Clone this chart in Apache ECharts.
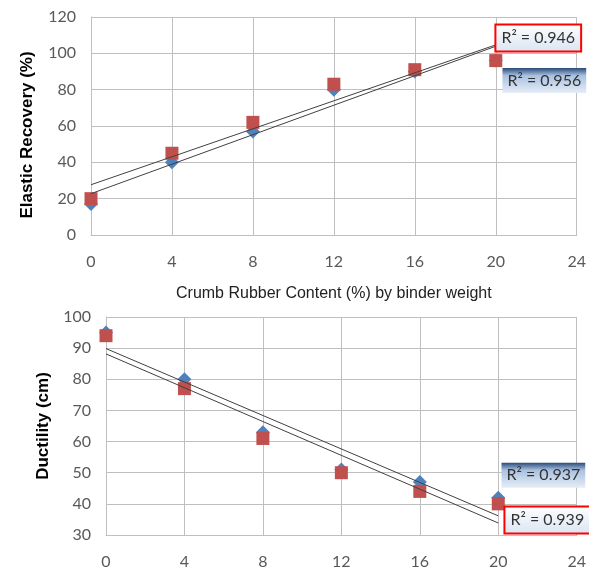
<!DOCTYPE html>
<html>
<head>
<meta charset="utf-8">
<script src="https://cdn.jsdelivr.net/npm/echarts@6/dist/echarts.min.js"></script>
<style>
  html, body { margin: 0; padding: 0; background: #fff; }
  #main { width: 589px; height: 570px; }
</style>
</head>
<body>
<div id="main"></div>
<script>
// values
const rubberContent = [0, 4, 8, 12, 16, 20]
const recoveryBlue = [17, 40, 57, 80, 90, 96]
const recoveryRed = [20, 45, 62, 83, 91, 96]
const ductilityBlue = [95, 80, 63, 51, 47, 42]
const ductilityRed = [94, 77, 61, 50, 44, 40]
const r2Text = ['R² = 0.946', 'R² = 0.956', 'R² = 0.937', 'R² = 0.939']

const BLUE = '#4F81BD'
const RED = '#C0504D'
const GRID = '#bfbfbf'
const TICK = '#595959'

const pairs = ys => rubberContent.map((x, i) => [x, ys[i]])

// least squares trend line, drawn from first to last x
function trend(ys) {
  const n = ys.length
  const mx = rubberContent.reduce((a, b) => a + b, 0) / n
  const my = ys.reduce((a, b) => a + b, 0) / n
  let sxy = 0
  let sxx = 0
  rubberContent.forEach((x, i) => {
    sxy += (x - mx) * (ys[i] - my)
    sxx += (x - mx) * (x - mx)
  })
  const m = sxy / sxx
  const b = my - m * mx
  const x0 = rubberContent[0]
  const x1 = rubberContent[n - 1]
  return [[x0, b + m * x0], [x1, b + m * x1]]
}

const redBox = {
  backgroundColor: {
    type: 'linear', x: 0, y: 0, x2: 0, y2: 1,
    colorStops: [{ offset: 0, color: '#ffffff' }, { offset: 1, color: '#d9e4f2' }]
  },
  borderColor: '#ff0000',
  borderWidth: 2
}
const blueBox = {
  backgroundColor: {
    type: 'linear', x: 0, y: 0, x2: 0, y2: 1,
    colorStops: [
      { offset: 0, color: '#2a4a78' },
      { offset: 0.3, color: '#a9c1e0' },
      { offset: 1, color: '#e6edf7' }
    ]
  }
}

function r2Mark(coord, text, box) {
  return {
    symbol: 'rect',
    symbolSize: 1,
    itemStyle: { color: 'rgba(0,0,0,0)' },
    animation: false,
    label: Object.assign({
      show: true,
      position: 'inside',
      formatter: () => text,
      color: '#333',
      fontSize: 16,
      fontFamily: 'Lato',
      padding: [5, 5, 4, 5]
    }, box),
    data: [{ coord: coord }]
  }
}

function xAxis(gridIndex, name) {
  return {
    type: 'value',
    gridIndex: gridIndex,
    min: 0,
    max: 24,
    interval: 4,
    name: name,
    nameLocation: 'middle',
    nameGap: 51,
    nameTextStyle: { color: '#222', fontSize: 16, fontFamily: 'Liberation Sans' },
    axisLine: { lineStyle: { color: GRID } },
    axisTick: { show: false },
    axisLabel: { color: TICK, fontSize: 16, fontFamily: 'Lato', margin: 19 },
    splitLine: { lineStyle: { color: GRID } }
  }
}

function yAxis(gridIndex, min, max, interval, name, gap, pad) {
  return {
    type: 'value',
    gridIndex: gridIndex,
    min: min,
    max: max,
    interval: interval,
    name: name,
    nameLocation: 'middle',
    nameGap: gap,
    nameTextStyle: {
      color: '#000', fontSize: 17, fontWeight: 'bold', fontFamily: 'Liberation Sans',
      padding: pad
    },
    axisLine: { show: true, lineStyle: { color: GRID } },
    axisTick: { show: false },
    axisLabel: { color: TICK, fontSize: 16, fontFamily: 'Lato', margin: 15 },
    splitLine: { lineStyle: { color: GRID } }
  }
}

function scatter(idx, ys, symbol, size, color) {
  return {
    type: 'scatter',
    xAxisIndex: idx,
    yAxisIndex: idx,
    symbol: symbol,
    symbolSize: size,
    itemStyle: { color: color, opacity: 1 },
    data: pairs(ys)
  }
}

function trendLine(idx, ys, mark) {
  return {
    type: 'line',
    xAxisIndex: idx,
    yAxisIndex: idx,
    showSymbol: false,
    symbol: 'none',
    lineStyle: { color: '#404040', width: 1 },
    data: trend(ys),
    markPoint: mark
  }
}

const chart = echarts.init(document.getElementById('main'))
chart.setOption({
  animation: false,
  grid: [
    { left: 91, right: 9, top: 17, height: 218 },
    { left: 106, right: 7, top: 317, height: 220 }
  ],
  xAxis: [
    xAxis(0, 'Crumb Rubber Content (%) by binder weight'),
    xAxis(1, '')
  ],
  yAxis: [
    yAxis(0, 0, 120, 20, 'Elastic Recovery (%)', 55, [0, 18, 0, 0]),
    yAxis(1, 30, 100, 10, 'Ductility (cm)', 53, 0)
  ],
  series: [
    scatter(0, recoveryBlue, 'diamond', 14, BLUE),
    scatter(0, recoveryRed, 'rect', 13, RED),
    trendLine(0, recoveryRed, r2Mark([22.1, 108.5], r2Text[0], redBox)),
    trendLine(0, recoveryBlue, r2Mark([22.4, 85], r2Text[1], blueBox)),
    scatter(1, ductilityBlue, 'diamond', 14, BLUE),
    scatter(1, ductilityRed, 'rect', 13, RED),
    trendLine(1, ductilityBlue, r2Mark([22.3, 49.2], r2Text[2], blueBox)),
    trendLine(1, ductilityRed, r2Mark([22.5, 34.8], r2Text[3], redBox))
  ]
})
</script>
</body>
</html>
